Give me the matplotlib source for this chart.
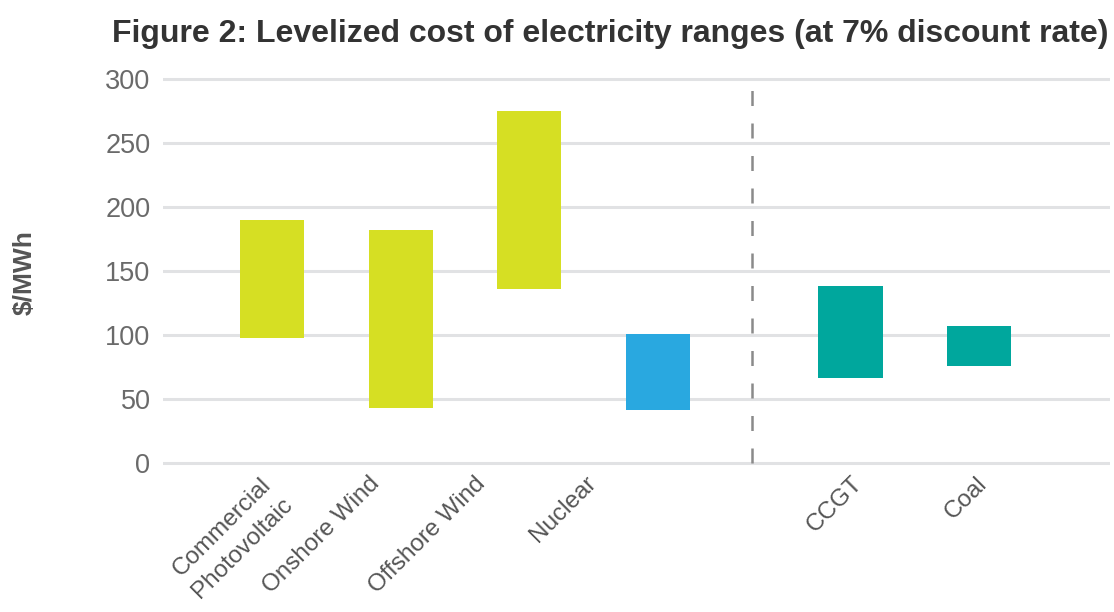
import matplotlib
matplotlib.use("Agg")
import matplotlib.pyplot as plt

categories = ["Commercial\nPhotovoltaic", "Onshore Wind", "Offshore Wind", "Nuclear", "CCGT", "Coal"]
low = [98, 43, 136, 41, 66, 76]
high = [190, 182, 275, 101, 138, 107]
colors = ["#D6DF23", "#D6DF23", "#D6DF23", "#29A8E0", "#00A79D", "#00A79D"]
positions = [0, 1, 2, 3, 4.5, 5.5]
label_pos = [-0.09, 0.75, 1.57, 2.43, 4.51, 5.48]
yticks = [0, 50, 100, 150, 200, 250, 300]

plt.rcParams['font.family'] = ['Liberation Sans', 'DejaVu Sans']

fig = plt.figure(figsize=(11.14, 6.12), dpi=100)
ax = fig.add_axes([0.1463, 0.2373, 0.8501, 0.6398])

heights = [h - l for h, l in zip(high, low)]
ax.bar(positions, heights, bottom=low, width=0.5, color=colors, zorder=3)

ax.set_ylim(-3, 303)
ax.set_xlim(-0.85, 6.52)
ax.set_yticks(yticks)
ax.set_yticklabels([str(v) for v in yticks])
for v in yticks:
    ax.axhline(v, color="#e1e2e4", lw=2.2, zorder=1)
ax.axvline(3.735, ymin=0.01, ymax=0.995, color="#8a8a8a", lw=1.8,
           dashes=(6, 7), zorder=2)

ax.set_xticks(label_pos)
ax.set_xticklabels(categories, rotation=45, ha="right", va="top",
                   rotation_mode="anchor", multialignment="center",
                   fontsize=17.5, color="#555555", linespacing=1.45)
ax.tick_params(axis="x", length=0, pad=4)
ax.tick_params(axis="y", length=0, pad=9, labelsize=19.5, labelcolor="#6a6a6a")

for s in ax.spines.values():
    s.set_visible(False)

fig.text(0.022, 0.555, "$/MWh", rotation=90, ha="center", va="center",
         fontsize=19, fontweight="bold", color="#555555")
fig.text(0.548, 0.945, "Figure 2: Levelized cost of electricity ranges (at 7% discount rate)",
         ha="center", va="center", fontsize=23, fontweight="bold", color="#333333")

fig.savefig("out.png", dpi=100)
